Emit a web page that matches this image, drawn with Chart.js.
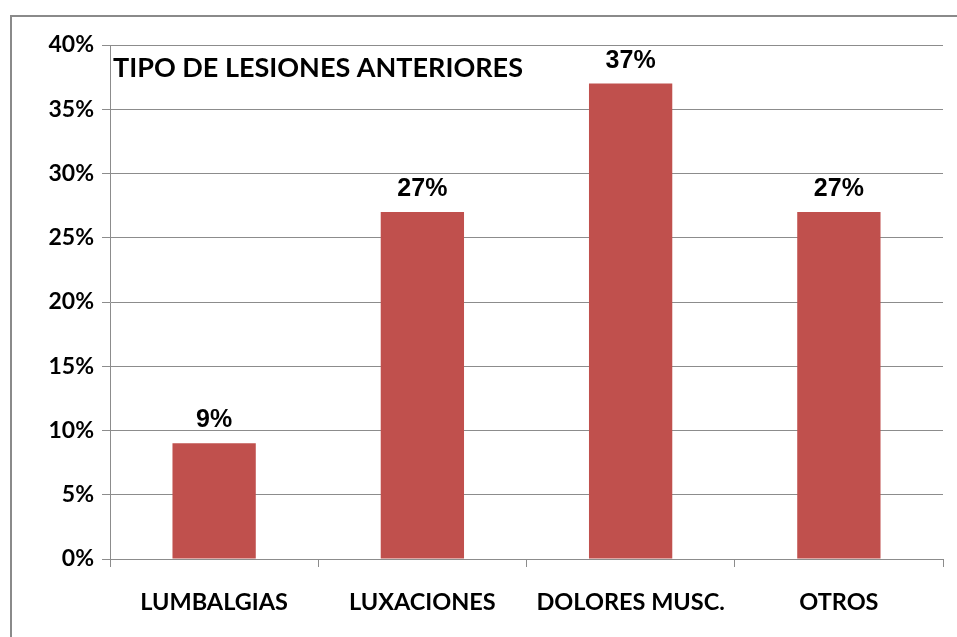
<!DOCTYPE html>
<html>
<head>
<meta charset="utf-8">
<script src="https://cdn.jsdelivr.net/npm/chart.js@4"></script>
<style>
html,body{margin:0;padding:0;background:#fff;}
#wrap{position:absolute;left:0;top:0;width:957px;height:637px;}
</style>
</head>
<body>
<div id="wrap"><canvas id="c" width="957" height="637"></canvas></div>
<script>
const categories = ["LUMBALGIAS", "LUXACIONES", "DOLORES MUSC.", "OTROS"];
const values = [9, 27, 37, 27];
const chartTitle = "TIPO DE LESIONES ANTERIORES";
const yTicks = [0, 5, 10, 15, 20, 25, 30, 35, 40];

const BAR = "#C0504D";
const GRID = "#8c8c8c";
const LABEL_FONT = "Lato";

const framePlugin = {
  id: "frame",
  beforeDraw(chart) {
    const ctx = chart.ctx;
    ctx.save();
    ctx.fillStyle = "#fff";
    ctx.fillRect(0, 0, chart.width, chart.height);
    ctx.strokeStyle = "#8a8a8a";
    ctx.lineWidth = 2;
    ctx.beginPath();
    ctx.moveTo(11, chart.height);
    ctx.lineTo(11, 16);
    ctx.lineTo(chart.width, 16);
    ctx.stroke();
    ctx.restore();
  }
};

const innerTitle = {
  id: "innerTitle",
  afterDraw(chart) {
    const ctx = chart.ctx;
    const a = chart.chartArea;
    ctx.save();
    ctx.font = "bold 27px " + LABEL_FONT;
    ctx.fillStyle = "#000";
    ctx.textAlign = "left";
    ctx.textBaseline = "middle";
    ctx.fillText(chartTitle, a.left + 3, a.top + 23);
    ctx.restore();
  }
};

const valueLabels = {
  id: "valueLabels",
  afterDatasetsDraw(chart) {
    const ctx = chart.ctx;
    const meta = chart.getDatasetMeta(0);
    ctx.save();
    ctx.font = "bold 25px 'Liberation Sans', Arial, sans-serif";
    ctx.fillStyle = "#000";
    ctx.textAlign = "center";
    ctx.textBaseline = "alphabetic";
    meta.data.forEach((bar, i) => {
      ctx.fillText(values[i] + "%", bar.x, bar.y - 16);
    });
    ctx.restore();
  }
};

new Chart(document.getElementById("c"), {
  type: "bar",
  data: {
    labels: categories,
    datasets: [{
      data: values,
      backgroundColor: BAR,
      borderWidth: 0,
      categoryPercentage: 1.0,
      barPercentage: 0.4
    }]
  },
  options: {
    responsive: false,
    animation: false,
    devicePixelRatio: 1,
    layout: { padding: { left: 0, right: 14, top: 45, bottom: 0 } },
    plugins: {
      legend: { display: false },
      tooltip: { enabled: false },
      title: { display: false }
    },
    scales: {
      x: {
        grid: {
          display: true,
          drawOnChartArea: false,
          drawTicks: true,
          tickLength: 8,
          offset: true,
          color: GRID,
          lineWidth: 1
        },
        border: { display: true, color: GRID, width: 1 },
        ticks: {
          color: "#000",
          font: { family: LABEL_FONT, size: 23.5, weight: "bold" },
          padding: 21,
          maxRotation: 0,
          autoSkip: false
        },
        afterFit(scale) { scale.height = 78; }
      },
      y: {
        min: 0,
        max: 40,
        afterBuildTicks(scale) { scale.ticks = yTicks.map(v => ({ value: v })); },
        grid: {
          color: GRID,
          lineWidth: 1,
          drawTicks: true,
          tickLength: 8
        },
        border: { display: true, color: GRID, width: 1 },
        ticks: {
          color: "#000",
          font: { family: LABEL_FONT, size: 23, weight: "bold" },
          padding: 8,
          callback: v => v + "%"
        },
        afterFit(scale) { scale.width = 110; }
      }
    }
  },
  plugins: [framePlugin, innerTitle, valueLabels]
});
</script>
</body>
</html>
